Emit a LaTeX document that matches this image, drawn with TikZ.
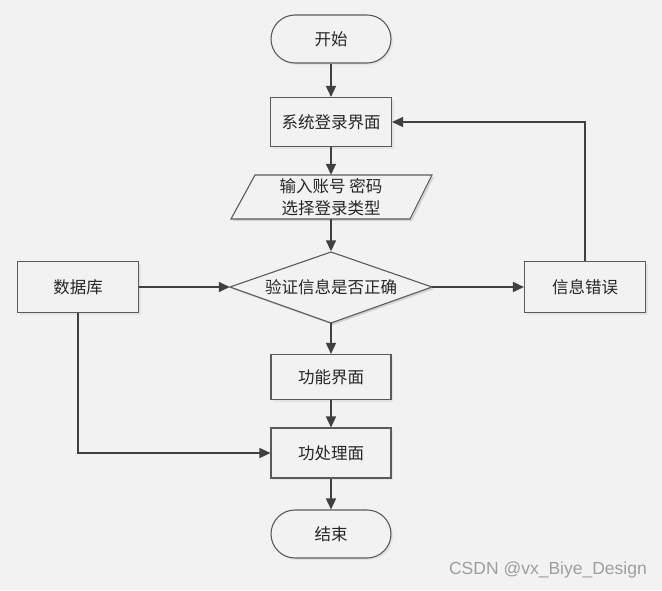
\documentclass[tikz,border=0pt]{standalone}
\usepackage{fontspec}
\newfontfamily\cjk{Noto Sans CJK SC}
\setsansfont{Liberation Sans}
\usetikzlibrary{arrows.meta,shadows}
\definecolor{bg}{HTML}{F2F2F2}
\definecolor{edge}{HTML}{404040}
\definecolor{bord}{HTML}{5A5A5A}
\begin{document}
\begin{tikzpicture}[x=1pt,y=-1pt,
  box/.style={draw=bord, line width=1.1pt, fill=bg, inner sep=0pt,
     font=\cjk\fontsize{16.5}{22}\selectfont, text=black!85,
     drop shadow={opacity=0.12, shadow xshift=2pt, shadow yshift=-2pt}},
  term/.style={box, rounded corners=24pt},
  ghost/.style={inner sep=0pt, font=\cjk\fontsize{16.5}{22}\selectfont, text=black!85, align=center},
  conn/.style={draw=edge, line width=1.5pt, -{Triangle[length=11pt,width=10pt]}},
  plain/.style={draw=edge, line width=1.5pt}
]
\fill[bg] (0,0) rectangle (662,590);
\useasboundingbox (0,0) rectangle (662,590);

\node[term, minimum width=120pt, minimum height=48pt] (start) at (331,39) {开始};
\node[box, minimum width=121pt, minimum height=49pt] (login) at (331,122) {系统登录界面};

% parallelogram
\fill[black, opacity=0.12] (257,177) -- (434,177) -- (412,221) -- (233,221) -- cycle;
\filldraw[draw=bord, fill=bg, line width=1.1pt] (255,175) -- (432,175) -- (410,219) -- (231,219) -- cycle;
\node[ghost, minimum width=178pt, minimum height=44pt] (para) at (331,197) {输入账号 密码\\选择登录类型};

% diamond
\fill[black, opacity=0.12] (232,289) -- (333,254) -- (434,289) -- (333,325) -- cycle;
\filldraw[draw=bord, fill=bg, line width=1.1pt] (230,287) -- (331,252) -- (432,287) -- (331,323) -- cycle;
\node[ghost, minimum width=202pt, minimum height=71pt] (dia) at (331,287) {验证信息是否正确};

\node[box, minimum width=121pt, minimum height=51pt] (db) at (78,287) {数据库};
\node[box, minimum width=121pt, minimum height=51pt] (err) at (585,287) {信息错误};
\node[box, minimum width=120pt, minimum height=45pt] (func) at (331,377) {功能界面};
\node[box, minimum width=120pt, minimum height=50pt] (proc) at (331,453) {功处理面};
\node[term, minimum width=120pt, minimum height=48pt] (end) at (331,534) {结束};

\node[font=\sffamily\fontsize{17.5}{20}\selectfont, text=black!38, anchor=east, inner sep=0pt] (wm) at (647,570) {CSDN @vx\_Biye\_Design};

\draw[conn] (start.south) -- (login.north);
\draw[conn] (login.south) -- (para.north);
\draw[conn] (para.south) -- (dia.north);
\draw[conn] (db.east) -- (dia.west);
\draw[conn] (dia.east) -- (err.west);
\draw[conn] (err.north) |- (login.east);
\draw[conn] (dia.south) -- (func.north);
\draw[conn] (func.south) -- (proc.north);
\draw[conn] (db.south) |- (proc.west);
\draw[conn] (proc.south) -- (end.north);
\end{tikzpicture}
\end{document}
